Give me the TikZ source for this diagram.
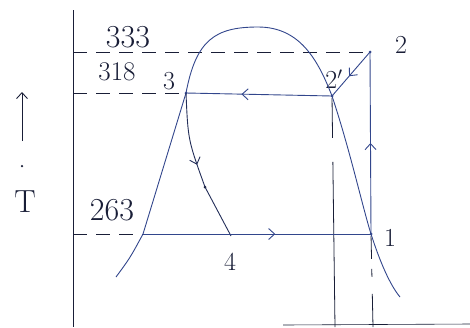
\documentclass[tikz,border=0pt]{standalone}
\usepackage{tikz}
\usetikzlibrary{arrows.meta,decorations.markings}
\definecolor{ink}{RGB}{50,70,140}
\definecolor{pencil}{RGB}{25,30,55}

\tikzset{
  Lbl/.style = {font=\fontsize{26}{26}\selectfont, text=pencil, inner sep=0pt},
  Val/.style = {font=\fontsize{32}{32}\selectfont, text=pencil, inner sep=0pt},
  Blob/.style = {circle, fill=#1, inner sep=0pt, minimum size=3pt},
  Guide/.style = {pencil, line width=0.8pt, dash pattern=on 14pt off 9pt},
  MidArrow/.style = {postaction={decorate},
    decoration={markings, mark=at position #1 with {\arrow{Straight Barb[length=6pt,width=11pt]}}}}
}

\begin{document}
\begin{tikzpicture}[x=1pt,y=-1pt,line width=0.9pt]
  \useasboundingbox (0,0) rectangle (470,327);

  % Points
  \node[Blob=ink] (p1) at (371,234) {};
  \node[Blob=ink] (p2) at (370,52) {};
  \node[Blob=ink] (p2d) at (332,96) {};
  \node[Blob=ink] (p3) at (186,93) {};
  \node[Blob=pencil] (m34) at (205,187) {};
  \coordinate (p4) at (231,236);
  \coordinate (f) at (143,234);
  \coordinate (axtop) at (73,10);
  \coordinate (axbot) at (73,327);
  \coordinate (t333) at (73,52);
  \coordinate (t318) at (73,93);
  \coordinate (t263) at (73,234);
  \coordinate (b2d) at (335,327);
  \coordinate (b1) at (373,327);
  \coordinate (sax) at (283,325);
  \coordinate (send) at (470,324);
  \coordinate (liqend) at (116,277);
  \coordinate (vapend) at (400,297);
  \coordinate (crit) at (258,27);

  % Labels
  \node[Lbl] (n1) at (390,238) {1};
  \node[Lbl] (n2) at (401,45) {2};
  \node[Lbl] (n2d) at (334,79) {2$'$};
  \node[Lbl] (n3) at (169,81) {3};
  \node[Lbl] (n4) at (230,262) {4};
  \node[Val] (v333) at (128,37) {333};
  \node[Val, font=\fontsize{27}{27}\selectfont] (v318) at (117,72) {318};
  \node[Val] (v263) at (112,210) {263};
  \node[Val] (nT) at (25,202) {T};
  \node[Blob=pencil, minimum size=2.5pt] (dotT) at (22,166) {};
  \coordinate (Ta) at (22,141);
  \coordinate (Tb) at (22,92);

  % Axes and guides
  \draw[pencil] (axtop) -- (axbot);
  \draw[pencil, line width=0.6pt] (sax) -- (send);
  \draw[pencil, -{Straight Barb[length=6pt,width=11pt]}] (Ta) -- (Tb);
  \draw[Guide] (t333) -- (p2);
  \draw[Guide] (t318) -- (p3);
  \draw[Guide] (t263) -- (f);
  \draw[pencil, line width=0.8pt, dash pattern=on 40pt off 24pt on 200pt off 0pt] (p2d) -- (b2d);
  \draw[pencil, line width=0.8pt, dash pattern=on 23pt off 10pt on 8pt off 17pt on 60pt off 0pt] (p1) -- (b1);

  % Saturation dome
  \draw[ink] (liqend) .. controls (130,258) .. (f) -- (p3.center)
    .. controls (196,40) and (215,27) .. (crit)
    .. controls (300,27) and (318,60) .. (p2d.center)
    .. controls (350,150) and (362,205) .. (p1.center)
    .. controls (380,262) and (390,285) .. (vapend);

  % Cycle
  \draw[ink, MidArrow=0.5] (p1.center) -- (p2.center);
  \draw[ink, MidArrow=0.55] (p2.center) -- (p2d.center);
  \draw[ink, MidArrow=0.62] (p2d.center) -- (p3.center);
  \draw[pencil!60!ink, MidArrow=0.48] (p3.center) .. controls (188,140) .. (m34.center) -- (p4);
  \draw[ink, MidArrow=0.58] (f) -- (p1.center);
\end{tikzpicture}
\end{document}
